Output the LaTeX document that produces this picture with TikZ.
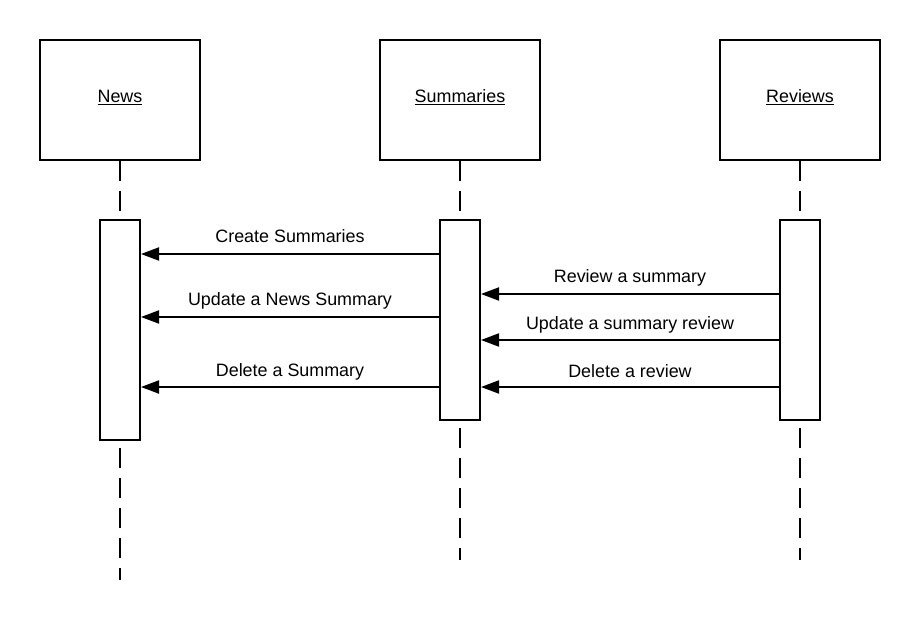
\documentclass[tikz,border=0pt]{standalone}
\usepackage{fontspec}
\setmainfont{Liberation Sans}
\usetikzlibrary{arrows.meta}

\begin{document}
\begin{tikzpicture}[
  every node/.style={inner sep=0pt},
  objbox/.style={draw=black, line width=2pt, minimum width=160pt, minimum height=120pt},
  objlabel/.style={font=\fontsize{17.9}{21}\selectfont, anchor=base},
  actbox/.style={draw=black, line width=2pt, minimum width=40pt, fill=white},
  lifeline/.style={line width=2pt, dash pattern=on 20pt off 10pt},
  msg/.style={line width=2pt, -{Triangle[length=18pt, width=13pt]}},
  msglabel/.style={font=\fontsize{17.9}{21}\selectfont, anchor=base}]
\useasboundingbox (0pt, 0pt) rectangle (920pt, -620pt);
% objects
\node (news) [objbox] at (120pt, -100pt) {};
\node (summ) [objbox] at (460pt, -100pt) {};
\node (rev) [objbox] at (800pt, -100pt) {};
\node [objlabel] at (120pt, -103pt) {\underline{News}};
\node [objlabel] at (460pt, -103pt) {\underline{Summaries}};
\node [objlabel] at (800pt, -103pt) {\underline{Reviews}};
% activations
\node (newsact) [actbox, minimum height=220pt] at (120pt, -330pt) {};
\node (summact) [actbox, minimum height=200pt] at (460pt, -320pt) {};
\node (revact) [actbox, minimum height=200pt] at (800pt, -320pt) {};
\coordinate (newsend) at (120pt, -580pt);
\coordinate (summend) at (460pt, -560pt);
\coordinate (revend) at (800pt, -560pt);
% lifelines
\draw [lifeline] (news.south) -- (newsact.north);
\draw [lifeline] (summ.south) -- (summact.north);
\draw [lifeline] (rev.south) -- (revact.north);
\draw [lifeline] ([yshift=-7pt]newsact.south) -- (newsend);
\draw [lifeline] ([yshift=-7pt]summact.south) -- (summend);
\draw [lifeline] ([yshift=-7pt]revact.south) -- (revend);
% messages
\draw [msg] (summact.west |- 0,-254pt) -- (newsact.east |- 0,-254pt);
\draw [msg] (summact.west |- 0,-317pt) -- (newsact.east |- 0,-317pt);
\draw [msg] (summact.west |- 0,-387pt) -- (newsact.east |- 0,-387pt);
\draw [msg] (revact.west |- 0,-294pt) -- (summact.east |- 0,-294pt);
\draw [msg] (revact.west |- 0,-340pt) -- (summact.east |- 0,-340pt);
\draw [msg] (revact.west |- 0,-387pt) -- (summact.east |- 0,-387pt);
\node [msglabel] at (290pt, -243pt) {Create Summaries};
\node [msglabel] at (290pt, -305pt) {Update a News Summary};
\node [msglabel] at (290pt, -376pt) {Delete a Summary};
\node [msglabel] at (630pt, -282pt) {Review a summary};
\node [msglabel] at (630pt, -329pt) {Update a summary review};
\node [msglabel] at (630pt, -377pt) {Delete a review};
\end{tikzpicture}
\end{document}
